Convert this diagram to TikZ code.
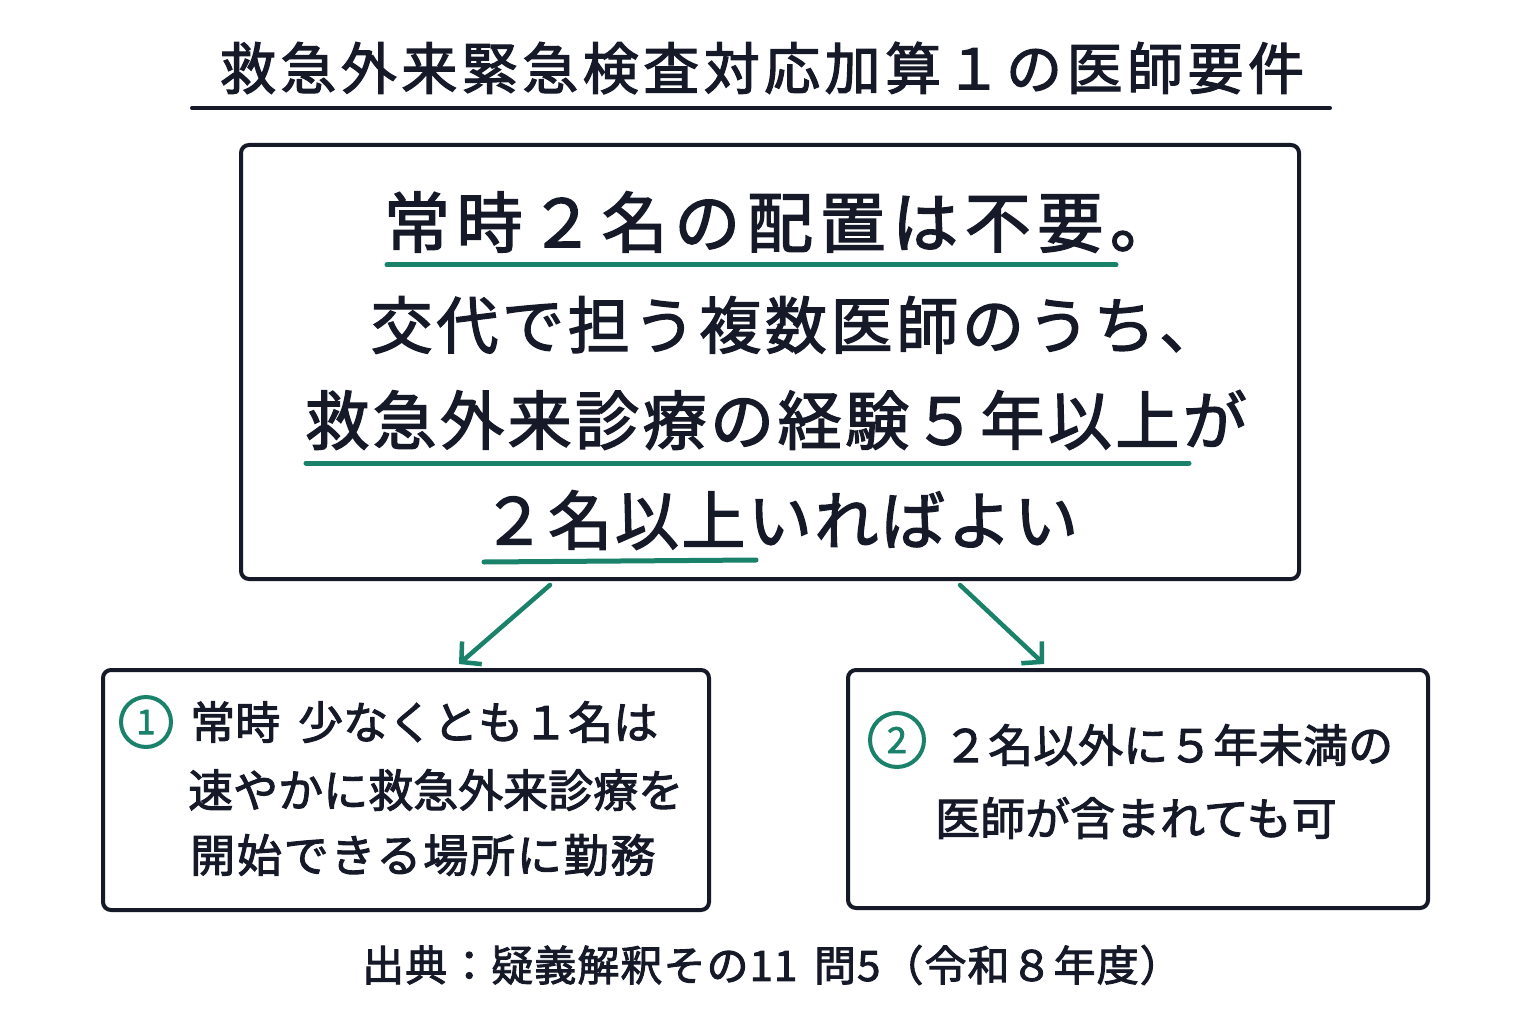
\documentclass[tikz,border=0pt]{standalone}
\usepackage{fontspec}
\setmainfont{Noto Sans CJK JP}
\newfontfamily\medfont{Noto Sans CJK JP}[FakeBold=2.2]
\usetikzlibrary{arrows.meta}
\definecolor{ink}{RGB}{22,26,40}
\definecolor{teal}{RGB}{26,130,106}
\newcommand{\ls}[1]{\addfontfeature{LetterSpace=#1}}
\tikzset{
  box/.style={draw=ink, line width=4pt, rounded corners=8pt, inner sep=0pt},
  txt/.style={text=ink, inner sep=0pt},
  uline/.style={draw=teal, line width=5pt, line cap=round},
  conn/.style={draw=teal, line width=4.5pt, line cap=round, -{Straight Barb[length=14pt,width=30pt,line width=4.5pt]}},
  numc/.style={circle, draw=teal, line width=4pt, text=teal, inner sep=0pt, minimum size=50pt},
}
\begin{document}
\begin{tikzpicture}[x=1pt,y=-1pt]
\useasboundingbox[fill=white] (0,0) rectangle (1536,1024);
% title
\node[txt, font=\fontsize{56}{60}\medfont\ls{8}] (title) at (762,68) {救急外来緊急検査対応加算１の医師要件};
\coordinate (tl) at (192,108);
\coordinate (tr) at (1330,108);
\draw[draw=ink, line width=4pt, line cap=round] (tl) -- (tr);
% main box
\node[box, minimum width=1058pt, minimum height=434pt] (main) at (770,362) {};
\node[txt, font=\fontsize{66}{70}\medfont\ls{10}] (l1) at (780,222) {常時２名の配置は不要。};
\node[txt, font=\fontsize{62}{66}\medfont\ls{6}] (l2) at (796,325) {交代で担う複数医師のうち、};
\node[txt, font=\fontsize{64}{68}\medfont\ls{5.5}] (l3) at (776,420) {救急外来診療の経験５年以上が};
\node[txt, font=\fontsize{64}{68}\medfont\ls{4}] (l4) at (780,520) {２名以上いればよい};
\coordinate (u1a) at (387,265); \coordinate (u1b) at (1116,265);
\coordinate (u3a) at (306,463); \coordinate (u3b) at (1189,463);
\coordinate (u4a) at (484,562); \coordinate (u4b) at (756,560);
\draw[uline] (u1a) -- (u1b);
\draw[uline] (u3a) -- (u3b);
\draw[uline] (u4a) -- (u4b);
% sub boxes
\node[box, minimum width=606pt, minimum height=240pt] (left) at (406,790) {};
\node[box, minimum width=580pt, minimum height=238pt] (right) at (1138,789) {};
% connectors
\coordinate (a1s) at (550,585); \coordinate (a1e) at (459,664);
\coordinate (a2s) at (960,585); \coordinate (a2e) at (1044,664);
\draw[conn] (a1s) -- (a1e);
\draw[conn] (a2s) -- (a2e);
% left box text
\node[numc, font=\fontsize{34}{36}\medfont] (n1) at (146,722) {1};
\node[txt, anchor=west, font=\fontsize{45}{48}\medfont] (b1) at (190,722) {常時\hspace{0.4em}少なくとも１名は};
\node[txt, anchor=west, font=\fontsize{45}{48}\medfont] (b2) at (188,790) {速やかに救急外来診療を};
\node[txt, anchor=west, font=\fontsize{45}{48}\medfont\ls{4}] (b3) at (190,855) {開始できる場所に勤務};
% right box text
\node[numc, minimum size=54pt, font=\fontsize{36}{38}\medfont] (n2) at (897,740) {2};
\node[txt, anchor=west, font=\fontsize{45}{48}\medfont] (c1) at (943,745) {２名以外に５年未満の};
\node[txt, anchor=west, font=\fontsize{45}{48}\medfont] (c2) at (935,818) {医師が含まれても可};
% footer
\node[txt, font=\fontsize{42}{46}\medfont\ls{2.5}] (src) at (772,965) {出典：疑義解釈その11\hspace{0.4em}問5（令和８年度）};
\end{tikzpicture}
\end{document}
